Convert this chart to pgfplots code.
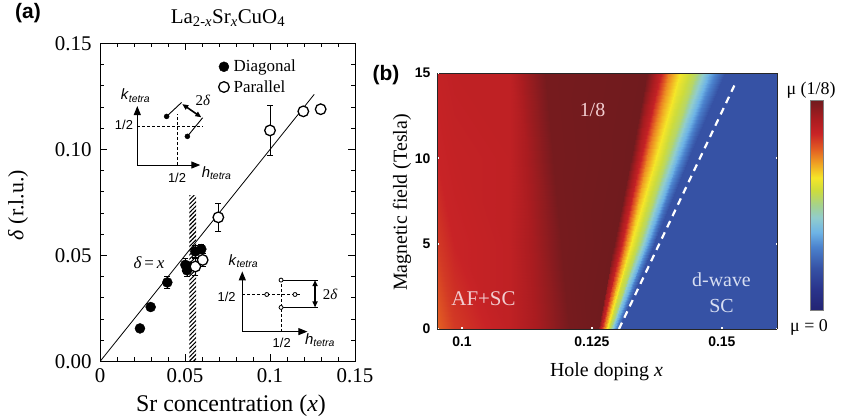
\documentclass[border=0pt]{standalone}
\usepackage{pgfplots}
\pgfplotsset{compat=1.18}
\usepackage{fontspec}
\setmainfont{Liberation Serif}
\newfontfamily\arial{Liberation Sans}
\usetikzlibrary{patterns.meta,arrows.meta}
\newcommand{\fs}[1]{\fontsize{#1}{#1}\selectfont}
\definecolor{pinktxt}{RGB}{242,205,208}
\definecolor{lavtxt}{RGB}{215,222,242}
\pgfplotsset{colormap={mu}{rgb255(0pt)=(35,36,115); rgb255(10pt)=(42,52,140); rgb255(20pt)=(54,82,165); rgb255(30pt)=(75,130,205); rgb255(37pt)=(110,180,230); rgb255(44pt)=(145,205,205); rgb255(50pt)=(165,210,140); rgb255(57pt)=(205,220,60); rgb255(63pt)=(245,230,40); rgb255(70pt)=(240,160,35); rgb255(77pt)=(225,90,35); rgb255(84pt)=(200,35,38); rgb255(91pt)=(170,28,32); rgb255(100pt)=(112,27,30)}}
\begin{document}
\begin{tikzpicture}
\path[use as bounding box] (0bp,0bp) rectangle (844bp,419bp);
% ---------------- panel (a)
\begin{axis}[at={(100bp,57.5bp)}, anchor=south west, scale only axis, width=255bp, height=318bp,
  xmin=0, xmax=0.15, ymin=0, ymax=0.15,
  xtick={0,0.05,0.1,0.15}, xticklabels={0,0.05,0.1,0.15},
  ytick={0,0.05,0.1,0.15}, yticklabels={0.00,0.05,0.10,0.15},
  minor tick num=4, tick align=inside, major tick length=7bp, minor tick length=4bp,
  tick style={black, line width=0.8bp}, axis line style={line width=1bp},
  ticklabel style={font=\fs{21}},
  xticklabel style={yshift=-4bp}, yticklabel style={xshift=-5bp},
  legend style={at={(rel axis cs:0.461,0.953)}, anchor=north west, draw=none, fill=none,
    font=\fs{17}, row sep=4bp, inner sep=0pt, nodes={inner sep=1.5bp}},
  legend cell align=left,
  legend image code/.code={\draw[#1] plot coordinates {(0bp,0bp)}; \path (-6bp,0bp) (8bp,0bp);},
]
\addplot[draw=none, pattern={Lines[angle=45,distance=3bp,line width=1.1bp]}, forget plot]
  coordinates {(0.0525,0.0785) (0.0565,0.0785)} \closedcycle;
\addplot[black, line width=0.8bp, forget plot] coordinates {(0,0) (0.126,0.126)};
\addplot[only marks, mark=*, mark size=5bp, black,
  error bars/.cd, y dir=both, y explicit,
  error mark options={rotate=90, mark size=3bp, line width=0.8bp},
  error bar style={line width=0.8bp}]
  table[x=x, y=y, y error=e] {
x y e
0.0235 0.0156 0
0.0298 0.0257 0
0.0396 0.0373 0.003
0.0502 0.0456 0.003
0.0512 0.0430 0.003
0.0531 0.0448 0
0.0561 0.0519 0.003
0.0596 0.0530 0.002
};
\addlegendentry{Diagonal}
\addplot[only marks, mark=*, mark size=5.3bp, mark options={fill=white, draw=black, line width=1.3bp}, black,
  error bars/.cd, y dir=both, y explicit,
  error mark options={rotate=90, mark size=3bp, line width=0.8bp},
  error bar style={line width=0.8bp}]
  table[x=x, y=y, y error=e] {
x y e
0.0561 0.0448 0.004
0.0604 0.0479 0.003
0.0696 0.0680 0.0066
0.1000 0.1090 0.012
};
\addlegendentry{Parallel}
\addplot[only marks, mark=*, mark size=5.3bp, mark options={fill=white, draw=black, line width=1.3bp}, forget plot]
  coordinates {(0.1196,0.118) (0.1298,0.119)};
% inset 1 (diagonal)
\draw[line width=1bp, -{Triangle[length=9bp,width=7bp]}] (0.02194,0.09267) -- (0.02194,0.1205);
\draw[line width=1bp, -{Triangle[length=9bp,width=7bp]}] (0.02194,0.09267) -- (0.0590,0.09267);
\draw[densely dashed, line width=0.6bp] (0.02194,0.1109) -- (0.0606,0.1109);
\draw[densely dashed, line width=0.6bp] (0.04547,0.09267) -- (0.04547,0.1169);
\draw[line width=0.9bp] (0.0392,0.1156) -- (0.0480,0.1222);
\draw[line width=0.9bp] (0.0514,0.1062) -- (0.0604,0.1150);
\draw[line width=1.6bp, {Triangle[length=6bp,width=5bp]}-{Triangle[length=6bp,width=5bp]}] (0.0484,0.1214) -- (0.0596,0.1152);
\addplot[only marks, mark=*, mark size=2.5bp, black, forget plot] coordinates {(0.0392,0.1156) (0.0514,0.1062)};
\node[font=\fs{15}] at (0.0606,0.1233) {2\textit{δ}};
\node[font=\arial\fs{15}] at (0.0209,0.1254) {\textit{k}\textsubscript{\textit{tetra}}};
\node[font=\arial\fs{13}] at (0.0141,0.1116) {1/2};
\node[font=\arial\fs{13}] at (0.0453,0.0868) {1/2};
\node[font=\arial\fs{15}] at (0.0686,0.0887) {\textit{h}\textsubscript{\textit{tetra}}};
% inset 2 (parallel)
\draw[line width=1bp, -{Triangle[length=9bp,width=7bp]}] (0.0837,0.0141) -- (0.0837,0.0425);
\draw[line width=1bp, -{Triangle[length=9bp,width=7bp]}] (0.0837,0.0141) -- (0.1220,0.0141);
\draw[densely dashed, line width=0.6bp] (0.0837,0.0316) -- (0.1176,0.0316);
\draw[densely dashed, line width=0.6bp] (0.1065,0.0141) -- (0.1065,0.0384);
\draw[line width=0.9bp] (0.1065,0.0384) -- (0.1284,0.0384);
\draw[line width=0.9bp] (0.1065,0.0255) -- (0.1284,0.0255);
\draw[line width=1.6bp, {Triangle[length=6bp,width=5bp]}-{Triangle[length=6bp,width=5bp]}] (0.1265,0.0384) -- (0.1265,0.0255);
\addplot[only marks, mark=*, mark size=2bp, mark options={fill=white, draw=black, line width=0.8bp}, forget plot]
  coordinates {(0.0981,0.0316) (0.1147,0.0316) (0.1065,0.0384) (0.1065,0.0255)};
\node[font=\fs{15}, anchor=west] at (0.1290,0.0319) {2\textit{δ}};
\node[font=\arial\fs{15}] at (0.0843,0.0474) {\textit{k}\textsubscript{\textit{tetra}}};
\node[font=\arial\fs{13}] at (0.0745,0.0306) {1/2};
\node[font=\arial\fs{13}] at (0.1069,0.0087) {1/2};
\node[font=\arial\fs{15}] at (0.1294,0.0101) {\textit{h}\textsubscript{\textit{tetra}}};
\node[font=\fs{17}] at (0.0288,0.0465) {\textit{δ}\,=\,\textit{x}};
\end{axis}
\node[font=\fs{24}] at (231bp,13bp) {Sr concentration (\textit{x})};
\node[font=\fs{22}, rotate=90] at (18bp,214bp) {\textit{δ} (r.l.u.)};
\node[font=\fs{21}] at (228bp,401bp) {La\textsubscript{2-\textit{x}}Sr\textsubscript{\textit{x}}CuO\textsubscript{4}};
\node[font=\arial\bfseries\fs{21}] at (28bp,406bp) {(a)};
% ---------------- panel (b)
\begin{axis}[at={(437bp,90bp)}, anchor=south west, scale only axis, width=340bp, height=256bp,
  view={0}{90}, axis on top,
  xmin=0.0952, xmax=0.1606, ymin=0, ymax=15, zmin=-1, zmax=1,
  xtick={0.1,0.125,0.15}, xticklabels={0.1,0.125,0.15},
  ytick={0,5,10,15}, yticklabels={0,5,10,15}, ztick=\empty,
  tick align=inside, major tick length=1.5bp, tick style={white, line width=2.2bp},
  axis line style={line width=0.6bp, black!85},
  ticklabel style={font=\arial\bfseries\fs{14}},
  xticklabel style={yshift=-4bp}, yticklabel style={xshift=-3bp},
  colormap name=mu, point meta min=0, point meta max=1,
  colorbar, colorbar style={at={(parent axis.north east)}, anchor=north west, xshift=25bp, yshift=-27bp,
    scale only axis, width=13bp, height=210bp, ytick=\empty, xtick=\empty,
    axis line style={draw=black!50, line width=0.3bp}},
]
\addplot3[surf, shader=interp, mesh/cols=13, point meta=explicit]
  table[x=x, y=y, z=z, meta=m] {
x y z m
0.0952 0 0 0.76
0.0985 0 0 0.81
0.1090 0 0 0.86
0.1150 0 0 0.92
0.1205 0 0 0.99
0.1262 0 0 1.00
0.1268 0 0 0.86
0.1273 0 0 0.73
0.1279 0 0 0.63
0.1285 0 0 0.53
0.1293 0 0 0.36
0.1302 0 0 0.20
0.1606 0 0 0.20
0.0952 5 0 0.81
0.0985 5 0 0.84
0.1090 5 0 0.86
0.1140 5 0 0.92
0.1190 5 0 0.99
0.1293 5 0 1.00
0.1305 5 0 0.86
0.1315 5 0 0.73
0.1326 5 0 0.63
0.1340 5 0 0.53
0.1355 5 0 0.36
0.1370 5 0 0.20
0.1606 5 0 0.20
0.0952 10 0 0.84
0.0985 10 0 0.85
0.1090 10 0 0.86
0.1130 10 0 0.92
0.1175 10 0 0.99
0.1325 10 0 1.00
0.1343 10 0 0.86
0.1356 10 0 0.73
0.1373 10 0 0.63
0.1395 10 0 0.53
0.1416 10 0 0.36
0.1437 10 0 0.20
0.1606 10 0 0.20
0.0952 15 0 0.85
0.0985 15 0 0.86
0.1090 15 0 0.86
0.1120 15 0 0.92
0.1160 15 0 0.99
0.1356 15 0 1.00
0.1380 15 0 0.86
0.1398 15 0 0.73
0.1420 15 0 0.63
0.1450 15 0 0.53
0.1478 15 0 0.36
0.1505 15 0 0.20
0.1606 15 0 0.20
};
\addplot3[white, line width=2.2bp, dash pattern=on 7bp off 5.5bp] coordinates {(0.1302,0,0) (0.1526,14.4,0)};
\end{axis}
\node[font=\fs{20}, text=pinktxt] at (592.5bp,309bp) {1/8};
\node[font=\fs{21}, text=pinktxt] at (483.5bp,120.5bp) {AF+SC};
\node[font=\fs{20}, text=lavtxt] at (721.5bp,139bp) {d-wave};
\node[font=\fs{20}, text=lavtxt] at (721.5bp,113bp) {SC};
\node[font=\fs{18}] at (811bp,329bp) {μ (1/8)};
\node[font=\fs{18}] at (809bp,92bp) {μ = 0};
\node[font=\fs{20}] at (606.5bp,47bp) {Hole doping \textit{x}};
\node[font=\fs{20}, rotate=90] at (402bp,216.5bp) {Magnetic field (Tesla)};
\node[font=\arial\bfseries\fs{21}] at (386bp,344bp) {(b)};
\end{tikzpicture}
\end{document}
